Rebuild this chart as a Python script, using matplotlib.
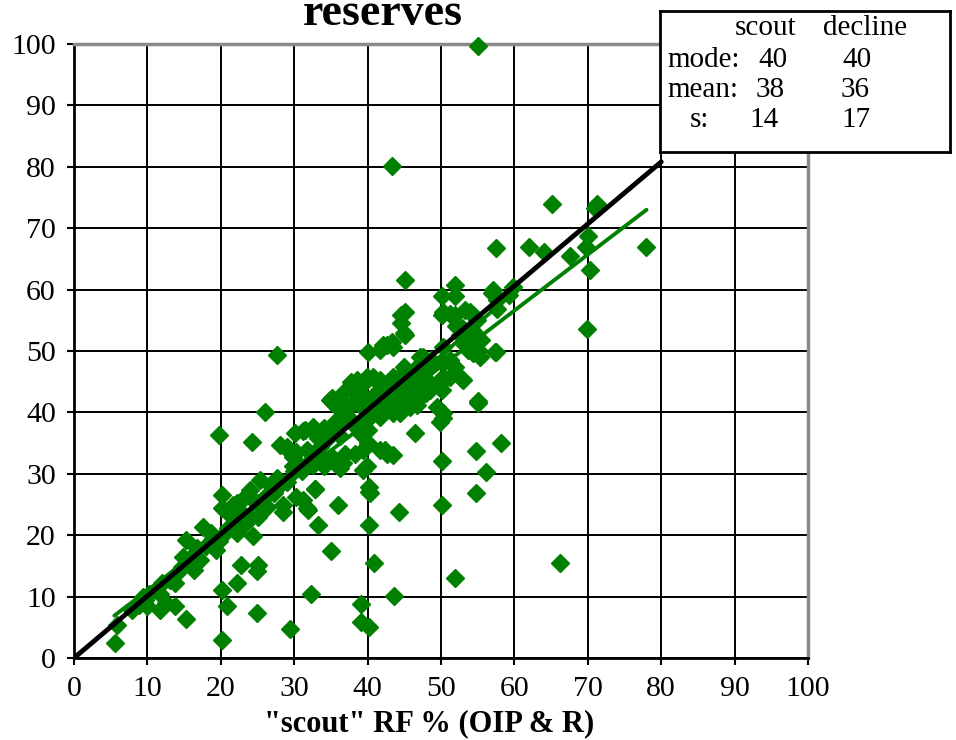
import matplotlib
matplotlib.use('Agg')
import matplotlib.pyplot as plt

plt.rcParams['font.family'] = ['Liberation Serif', 'DejaVu Serif']

# "scout" recovery factor (x) and decline recovery factor (y), %
scout_rf = [
    55.0, 43.3, 65.1, 71.2, 71.0, 57.5, 62.0, 64.0, 70.0, 69.8,
    67.6, 70.3, 77.9, 57.1, 59.8, 69.9, 57.5, 55.1, 54.8, 58.2,
    56.1, 54.8, 50.2, 50.2, 66.2, 51.9, 43.6, 39.1, 39.1, 40.2,
    40.9, 40.2, 44.3, 40.2, 40.2, 35.0, 32.3, 33.3, 31.7, 36.0,
    32.9, 29.4, 24.9, 20.1, 5.6, 5.8, 15.3, 20.1, 20.8, 22.2,
    22.8, 25.1, 24.9, 19.7, 24.2, 26.0, 27.6, 45.1, 34.9, 42.4,
    7.9, 8.8, 9.4, 9.7, 9.9, 11.7, 12.6, 13.8, 11.7, 13.1,
    13.8, 14.7, 14.9, 15.3, 16.3, 16.7, 17.2, 17.6, 19.4, 20.1,
    20.1, 21.7, 22.2, 23.3, 23.3, 24.4, 25.1, 24.4, 24.0, 25.3,
    26.3, 27.2, 27.6, 28.5, 28.5, 22.2, 30.3, 31.2, 31.9, 32.8,
    18.0, 19.0, 21.0, 20.3, 22.0, 23.0, 25.0, 26.2, 27.0, 29.0,
    28.0, 30.0, 16.0, 12.0, 10.2, 14.2, 18.6, 21.5, 19.8, 24.0,
    28.1, 29.4, 29.0, 29.9, 29.9, 30.1, 30.3, 30.8, 31.2, 31.5,
    31.7, 32.4, 32.6, 32.6, 33.1, 33.1, 33.3, 33.5, 34.0, 34.0,
    34.4, 34.9, 35.1, 35.3, 35.3, 35.8, 36.0, 36.0, 36.2, 36.2,
    36.7, 36.7, 36.9, 37.2, 37.6, 37.8, 37.8, 38.3, 38.3, 38.5,
    39.0, 39.0, 39.4, 39.4, 39.4, 39.4, 39.6, 39.9, 39.9, 39.9,
    40.1, 40.1, 40.1, 40.3, 40.3, 40.8, 41.2, 41.7, 41.7, 41.7,
    41.7, 41.7, 42.1, 42.6, 42.6, 43.1, 43.3, 43.5, 43.5, 43.5,
    44.0, 44.0, 44.0, 44.4, 44.4, 44.6, 44.6, 44.9, 45.1, 45.1,
    45.3, 45.8, 46.2, 46.5, 46.7, 46.7, 44.9, 47.1, 47.1, 47.1,
    47.6, 48.0, 48.5, 48.5, 48.7, 49.4, 49.9, 49.9, 49.9, 50.1,
    50.3, 50.3, 50.3, 50.3, 50.3, 50.1, 50.1, 50.3, 51.2, 51.2,
    51.2, 51.9, 51.9, 51.9, 51.9, 52.1, 52.6, 52.8, 52.8, 53.0,
    53.3, 53.3, 53.5, 53.7, 53.9, 54.4, 54.4, 54.4, 54.4, 54.9,
    55.1, 55.3, 55.5, 55.1, 56.9, 57.4, 57.6, 57.6, 59.2, 43.5,
    42.6, 38.0, 37.0, 35.5, 34.5, 31.0, 32.0, 33.5, 38.5, 40.5,
    42.0, 43.0, 45.5, 46.0, 47.5, 48.0, 41.0, 42.5, 45.0, 46.5,
]
decline_rf = [
    99.7, 80.1, 74.0, 74.0, 73.3, 66.8, 66.9, 66.2, 68.7, 67.0,
    65.4, 63.2, 66.9, 59.9, 60.5, 53.6, 49.9, 41.6, 33.7, 35.0,
    30.3, 26.8, 32.1, 25.0, 15.4, 13.0, 10.1, 8.8, 5.9, 5.0,
    15.4, 21.7, 23.8, 27.9, 27.1, 17.5, 10.4, 21.7, 24.4, 25.0,
    27.5, 4.7, 7.3, 2.9, 2.4, 5.4, 6.4, 11.1, 8.4, 12.2,
    15.1, 15.1, 14.1, 36.3, 35.2, 40.0, 49.3, 61.6, 42.0, 33.9,
    7.8, 8.6, 10.0, 9.4, 8.4, 7.8, 8.9, 8.4, 10.5, 12.7,
    12.2, 14.9, 16.5, 19.2, 14.3, 17.9, 16.0, 21.4, 17.6, 24.4,
    26.5, 24.9, 20.3, 21.9, 26.3, 19.8, 23.0, 25.7, 27.4, 29.0,
    24.6, 26.8, 29.3, 24.9, 23.8, 25.2, 26.3, 25.7, 24.1, 27.6,
    18.2, 19.6, 21.2, 20.0, 22.3, 23.4, 25.3, 26.4, 27.8, 28.6,
    28.2, 30.4, 16.4, 12.2, 10.4, 14.0, 20.4, 23.0, 19.0, 23.0,
    34.7, 33.6, 34.4, 32.8, 31.2, 36.6, 33.6, 31.2, 36.9, 37.1,
    33.9, 37.1, 37.7, 31.4, 32.5, 33.4, 35.8, 34.4, 37.4, 31.2,
    35.5, 32.2, 42.3, 41.5, 32.5, 31.4, 40.7, 37.7, 36.1, 30.9,
    31.7, 43.1, 33.3, 40.9, 44.2, 45.0, 38.8, 44.5, 33.3, 45.3,
    43.1, 36.6, 44.7, 42.6, 33.9, 30.6, 40.4, 38.8, 31.2, 45.8,
    37.1, 35.0, 49.9, 40.9, 26.8, 45.8, 41.8, 50.2, 45.3, 44.7,
    39.3, 33.9, 51.0, 41.5, 33.3, 40.9, 51.5, 45.8, 39.9, 33.1,
    43.1, 41.2, 40.4, 42.0, 39.9, 55.9, 54.5, 52.9, 52.6, 56.4,
    42.6, 40.9, 44.2, 36.6, 41.2, 42.0, 47.4, 42.6, 43.6, 49.1,
    49.1, 43.1, 43.6, 47.4, 48.5, 40.9, 45.0, 44.7, 38.5, 43.6,
    39.9, 39.1, 48.0, 50.7, 45.8, 55.9, 58.9, 56.4, 56.1, 48.5,
    45.8, 60.7, 58.9, 55.9, 47.4, 54.0, 52.6, 53.7, 45.5, 45.3,
    51.0, 56.7, 51.8, 50.2, 56.4, 55.9, 53.2, 51.2, 49.6, 55.0,
    50.2, 49.1, 51.8, 41.8, 59.4, 49.9, 58.3, 56.9, 59.1, 50.7,
    51.0, 41.5, 39.5, 38.5, 36.5, 30.5, 32.0, 33.0, 37.5, 39.5,
    41.0, 42.5, 44.5, 45.5, 46.0, 45.5, 43.0, 44.0, 46.5, 47.0,
]

# reference lines
unity_x = [0, 80]
unity_y = [0, 80.8]
trend_x = [5.5, 78.0]
trend_y = [6.9, 73.0]
trend2_x = [44.0, 60.8]
trend2_y = [43.0, 60.5]

ticks = list(range(0, 101, 10))

title_text = 'reserves'
xlabel_text = '"scout" RF % (OIP & R)'
box_header = ['scout', 'decline']
box_rows = [('mode:', '40', '40'), ('mean:', '38', '36'), ('s:', '14', '17')]

W, H = 956, 740
def fx(px):
    return px / W
def fy(py):
    return 1 - py / H

fig = plt.figure(figsize=(W / 100, H / 100), dpi=100)
ax = fig.add_axes([fx(74), fy(658), (808 - 74) / W, (658 - 44) / H])
ax.set_xlim(0, 100)
ax.set_ylim(0, 100)
ax.set_xticks(ticks)
ax.set_yticks(ticks)
ax.set_xticklabels([str(t) for t in ticks])
ax.set_yticklabels([str(t) for t in ticks])
ax.grid(True, color='black', linewidth=1.4)
ax.set_axisbelow(True)
ax.tick_params(direction='out', length=5, width=1.5, labelsize=21.5, pad=8, colors='black')
for s in ['left', 'bottom']:
    ax.spines[s].set_color('black')
    ax.spines[s].set_linewidth(2)
for s in ['top', 'right']:
    ax.spines[s].set_color('#8a8a8a')
    ax.spines[s].set_linewidth(2.5)

green = '#008000'
ax.plot(scout_rf, decline_rf, linestyle='none', marker='D', markersize=9.3,
        color=green, markeredgecolor=green, clip_on=False, zorder=3)
ax.plot(trend_x, trend_y, color=green, linewidth=2.8, solid_capstyle='round', zorder=4)
ax.plot(trend2_x, trend2_y, color=green, linewidth=2.8, solid_capstyle='round', zorder=4)
ax.plot(unity_x, unity_y, color='black', linewidth=3.5, solid_capstyle='round', zorder=5)

fig.text(fx(383), fy(25), title_text, ha='center', va='baseline', fontsize=33, fontweight='bold')
fig.text(fx(429), fy(731), xlabel_text, ha='center', va='baseline', fontsize=22, fontweight='bold')

# stats box
bx = fig.add_axes([fx(660), fy(152), (950 - 660) / W, (152 - 11) / H], zorder=10)
bx.set_facecolor('white')
bx.set_xticks([])
bx.set_yticks([])
for s in bx.spines.values():
    s.set_color('black')
    s.set_linewidth(2)

fs = 21
fig.text(fx(735), fy(35), box_header[0], ha='left', va='baseline', fontsize=fs, zorder=11)
fig.text(fx(823), fy(35), box_header[1], ha='left', va='baseline', fontsize=fs, zorder=11)
row_y = [67, 97, 127]
lab_x = [667, 667, 690]
v1_x = [758, 756, 749]
v2_x = [842, 841, 841]
for (lab, a, b), yy, lx, ax1, ax2 in zip(box_rows, row_y, lab_x, v1_x, v2_x):
    fig.text(fx(lx), fy(yy), lab, ha='left', va='baseline', fontsize=fs, zorder=11)
    fig.text(fx(ax1), fy(yy), a, ha='left', va='baseline', fontsize=fs, zorder=11)
    fig.text(fx(ax2), fy(yy), b, ha='left', va='baseline', fontsize=fs, zorder=11)

fig.savefig('out.png', dpi=100)
